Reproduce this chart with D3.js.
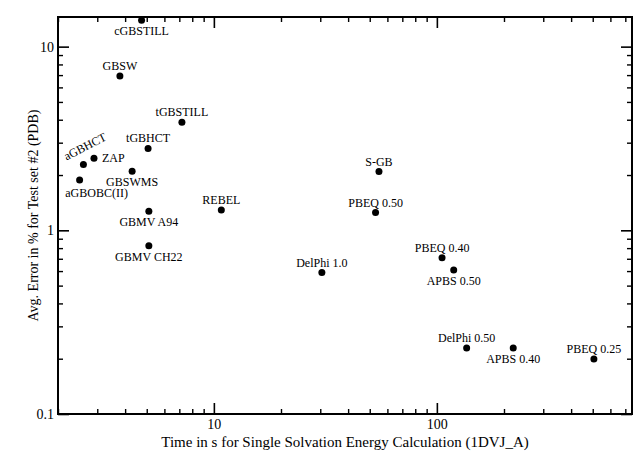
<!DOCTYPE html>
<html>
<head>
<meta charset="utf-8">
<script src="https://cdn.jsdelivr.net/npm/d3@7"></script>
<style>
body { margin: 0; background: #fff; }
</style>
</head>
<body>
<div id="chart"></div>
<script>
const methods = ['cGBSTILL', 'GBSW', 'tGBSTILL', 'tGBHCT', 'aGBHCT', 'ZAP', 'GBSWMS', 'aGBOBC(II)', 'REBEL',
    'GBMV A94', 'GBMV CH22', 'S-GB', 'PBEQ 0.50', 'DelPhi 1.0', 'PBEQ 0.40', 'APBS 0.50', 'DelPhi 0.50',
    'APBS 0.40', 'PBEQ 0.25']
const times = [4.74, 3.79, 7.19, 5.07, 2.60, 2.90, 4.30, 2.50, 10.8, 5.11, 5.11, 55.0, 53.1, 30.5, 105.5, 119, 136, 220, 506]
const errors = [13.9, 6.92, 3.87, 2.79, 2.28, 2.47, 2.10, 1.88, 1.29, 1.27, 0.823, 2.09, 1.25, 0.589, 0.710, 0.609, 0.229, 0.229, 0.199]
const xTicks = [10, 100]
const yTicks = [0.1, 1, 10]
const xTitle = 'Time in s for Single Solvation Energy Calculation (1DVJ_A)'
const yTitle = 'Avg. Error in % for Test set #2 (PDB)'

// where each name sits around its dot
const labelPlace = {
    'cGBSTILL': 'below',
    'GBSW': 'above',
    'tGBSTILL': 'above',
    'tGBHCT': 'above',
    'aGBHCT': 'rot',
    'ZAP': 'right',
    'GBSWMS': 'below',
    'aGBOBC(II)': 'belowRight',
    'REBEL': 'above',
    'GBMV A94': 'below',
    'GBMV CH22': 'below',
    'S-GB': 'above',
    'PBEQ 0.50': 'above',
    'DelPhi 1.0': 'above',
    'PBEQ 0.40': 'above',
    'APBS 0.50': 'below',
    'DelPhi 0.50': 'above',
    'APBS 0.40': 'below',
    'PBEQ 0.25': 'above'
}

const W = 634
const H = 451
const margin = { left: 58, top: 17, right: 2, bottom: 37 }
const w = W - margin.left - margin.right
const h = H - margin.top - margin.bottom
const font = '"Liberation Serif", "Times New Roman", serif'

const svg = d3.select('#chart').append('svg')
    .attr('width', W)
    .attr('height', H)
    .attr('font-family', font)

const g = svg.append('g').attr('transform', `translate(${margin.left},${margin.top})`)

const x = d3.scaleLog().domain([2, 750]).range([0, w])
const y = d3.scaleLog().domain([0.1, 14.5]).range([h, 0])

const notMajor = (list) => v => !list.some(t => Math.abs(t - v) / t < 1e-6)
const xMinor = x.ticks().filter(notMajor(xTicks))
const yMinor = y.ticks().filter(notMajor(yTicks))

function styleAxis (sel, width) {
    sel.select('.domain').remove()
    sel.selectAll('line').attr('stroke', '#000').attr('stroke-width', width)
    sel.selectAll('text').attr('fill', '#000').attr('font-size', 14).attr('font-family', font)
}

// bottom
g.append('g').attr('transform', `translate(0,${h})`)
    .call(d3.axisBottom(x).tickValues(xTicks).tickSize(-11).tickPadding(5).tickFormat(d3.format('d')))
    .call(s => styleAxis(s, 1.6))
g.append('g').attr('transform', `translate(0,${h})`)
    .call(d3.axisBottom(x).tickValues(xMinor).tickSize(-5).tickFormat(''))
    .call(s => styleAxis(s, 1.4))
// top
g.append('g')
    .call(d3.axisTop(x).tickValues(xTicks).tickSize(-11).tickFormat(''))
    .call(s => styleAxis(s, 1.6))
g.append('g')
    .call(d3.axisTop(x).tickValues(xMinor).tickSize(-5).tickFormat(''))
    .call(s => styleAxis(s, 1.4))
// left
g.append('g')
    .call(d3.axisLeft(y).tickValues(yTicks).tickSize(-11).tickPadding(4).tickFormat(d => d < 1 ? '0.1' : d3.format('d')(d)))
    .call(s => styleAxis(s, 1.6))
g.append('g')
    .call(d3.axisLeft(y).tickValues(yMinor).tickSize(-5).tickFormat(''))
    .call(s => styleAxis(s, 1.4))
// right
g.append('g').attr('transform', `translate(${w},0)`)
    .call(d3.axisRight(y).tickValues(yTicks).tickSize(-11).tickFormat(''))
    .call(s => styleAxis(s, 1.6))
g.append('g').attr('transform', `translate(${w},0)`)
    .call(d3.axisRight(y).tickValues(yMinor).tickSize(-5).tickFormat(''))
    .call(s => styleAxis(s, 1.4))

// frame
g.append('rect')
    .attr('width', w)
    .attr('height', h)
    .attr('fill', 'none')
    .attr('stroke', '#000')
    .attr('stroke-width', 2)

const points = methods.map((m, i) => ({ name: m, t: times[i], e: errors[i] }))

g.selectAll('circle.pt').data(points).enter()
    .append('circle')
    .attr('class', 'pt')
    .attr('cx', d => x(d.t))
    .attr('cy', d => y(d.e))
    .attr('r', 3.5)
    .attr('fill', '#000')

g.selectAll('text.lbl').data(points).enter()
    .append('text')
    .attr('class', 'lbl')
    .attr('font-size', 12)
    .attr('fill', '#000')
    .each(function (d) {
        const px = x(d.t)
        const py = y(d.e)
        const place = labelPlace[d.name]
        const t = d3.select(this).text(d.name)
        if (place === 'above') {
            t.attr('x', px).attr('y', py - 6).attr('text-anchor', 'middle')
        } else if (place === 'below') {
            t.attr('x', px).attr('y', py + 15).attr('text-anchor', 'middle')
        } else if (place === 'belowRight') {
            t.attr('x', px + 17).attr('y', py + 17).attr('text-anchor', 'middle')
        } else if (place === 'right') {
            t.attr('x', px + 8).attr('y', py + 4).attr('text-anchor', 'start')
        } else {
            t.attr('text-anchor', 'start')
                .attr('transform', `translate(${px - 17},${py - 4}) rotate(-27)`)
        }
    })

// titles
svg.append('text')
    .attr('x', margin.left + w / 2)
    .attr('y', 447)
    .attr('text-anchor', 'middle')
    .attr('font-size', 15)
    .text(xTitle)

svg.append('text')
    .attr('transform', `translate(38,${margin.top + h / 2}) rotate(-90)`)
    .attr('text-anchor', 'middle')
    .attr('font-size', 14)
    .text(yTitle)
</script>
</body>
</html>
